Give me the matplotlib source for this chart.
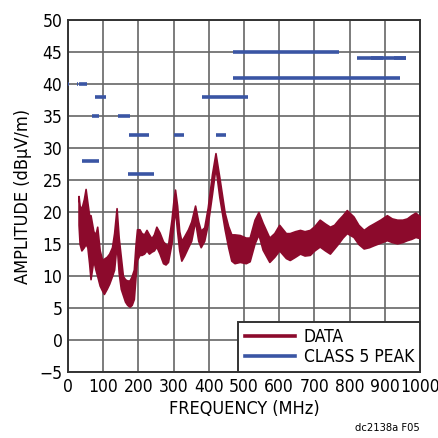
import numpy as np
import matplotlib.pyplot as plt
from matplotlib.lines import Line2D

plt.rcParams['font.family'] = ['DejaVu Sans']
plt.rcParams['font.stretch'] = 'condensed'

RED = "#8c0a2c"
BLUE = "#3a55a4"

freq = [30, 33, 38, 45, 50, 55, 60, 64, 72, 78, 83, 90, 97, 102, 110, 117, 125, 131,
        138, 144, 150, 156, 162, 168, 175, 181, 187, 192, 196, 203, 209, 216, 223,
        230, 237, 244, 251, 260, 270, 277, 284, 294, 300, 304, 310, 316, 322, 330,
        341, 350, 361, 370, 377, 387, 397, 409, 419, 430, 445, 455, 464, 473, 488,
        505, 516, 530, 541, 553, 572, 586, 600, 619, 630, 645, 659, 672, 687, 700,
        715, 730, 744, 756, 768, 780, 792, 811, 825, 840, 855, 868, 887, 906, 920,
        935, 950, 963, 975, 987, 1000]
amp_hi = [22.5, 21, 20.5, 22, 23.6, 21.5, 19.5, 19.5, 17, 16.5, 17.7, 14, 12.5, 12.7,
          13, 13.5, 14.5, 16.7, 20.6, 16, 13, 10, 9.5, 9.3, 9.3, 10, 11, 15, 17.3,
          17.3, 16.7, 16.5, 17.2, 16.5, 15.9, 16.5, 17.7, 16.8, 15.4, 15, 14.8, 18.8,
          22, 23.5, 21, 17, 15.5, 16.2, 17.3, 18.5, 21, 18.5, 17.1, 17.6, 20.7, 25.9,
          29.2, 25.4, 19.9, 17.8, 16.5, 16.5, 16.4, 16, 16, 18.8, 20, 18.3, 16, 16.7,
          18, 16.7, 16.7, 17, 17.2, 17, 17.2, 17.8, 18.8, 18.2, 17.7, 18, 18.8, 19.5,
          20.3, 19.3, 18, 17.2, 17.8, 18.2, 18.8, 19.5, 19, 18.8, 18.8, 19, 19.5,
          19.9, 19.3]
amp_lo = [18, 15, 14, 14.5, 15, 14.5, 12, 9.5, 12.5, 11, 10, 8.5, 7.7, 7.2, 8, 8.8,
          10, 11, 15, 10.5, 8, 7, 6, 5.5, 5.2, 5.5, 6.4, 10, 12.5, 13.3, 13.3, 13.5,
          14, 13.5, 13.8, 14, 14.6, 13.5, 12, 11.8, 12.2, 15.1, 18.5, 20.4, 17, 14,
          12.4, 13.2, 14.5, 15.5, 18.6, 15.5, 14.5, 15.5, 18.1, 22.8, 27, 22.3, 17.3,
          14.5, 12.4, 12, 12.2, 12, 12.3, 15.1, 16.5, 14.1, 12.2, 13, 14, 12.8, 12.5,
          13, 13.5, 13.2, 13.3, 14, 14.6, 14, 13.5, 14.3, 15.1, 16, 16.7, 16.1, 15,
          14.3, 14.5, 14.8, 15.2, 15.6, 15.3, 15.1, 15.3, 15.6, 15.8, 16.1, 15.9]

# class 5 peak limit segments
lim_start = [0.53, 5.9, 26, 30, 41, 68, 76, 142, 171, 174, 300, 380, 420, 470, 470, 820, 860, 925]
lim_stop = [1.8, 6.2, 28, 54, 88, 87, 108, 175, 245, 230, 330, 512, 450, 944, 770, 960, 895, 960]
lim_level = [40, 40, 40, 40, 28, 35, 38, 35, 26, 32, 32, 38, 32, 41, 45, 44, 44, 44]

fig = plt.figure(figsize=(4.39, 4.38), dpi=100)
ax = fig.add_axes([68/439, 1-372/438, 352/439, 352/438])

ax.fill_between(freq, amp_lo, amp_hi, color=RED, lw=1.2, edgecolor=RED, zorder=3)
ax.hlines(lim_level, lim_start, lim_stop, color=BLUE, lw=2.6, zorder=4)

ax.set_xlim(0, 1000)
ax.set_ylim(-5, 50)
ax.set_xticks(np.arange(0, 1001, 100))
ax.set_yticks(np.arange(-5, 51, 5))
ax.grid(True, color="#666666", lw=1.2)
ax.tick_params(length=0, labelsize=12.5, pad=4)
for s in ax.spines.values():
    s.set_color("#333333")
    s.set_linewidth(1.4)

ax.set_xlabel("FREQUENCY (MHz)", fontsize=13, labelpad=3)
ax.set_ylabel("AMPLITUDE (dBµV/m)", fontsize=13, labelpad=5)

handles = [Line2D([], [], color=RED, lw=2.6), Line2D([], [], color=BLUE, lw=2.6)]
leg = ax.legend(handles, ["DATA", "CLASS 5 PEAK"], loc="lower right", bbox_to_anchor=(1, 0),
                borderaxespad=0, fancybox=False, framealpha=1, edgecolor="#333333",
                fontsize=12.5, handlelength=2.9, handletextpad=0.5, labelspacing=0.1,
                borderpad=0.35)
leg.get_frame().set_linewidth(1.4)

fig.text(420/439, 1-428/438, "dc2138a F05", fontsize=8, ha="right", va="center")

fig.savefig("out.png", dpi=100)
